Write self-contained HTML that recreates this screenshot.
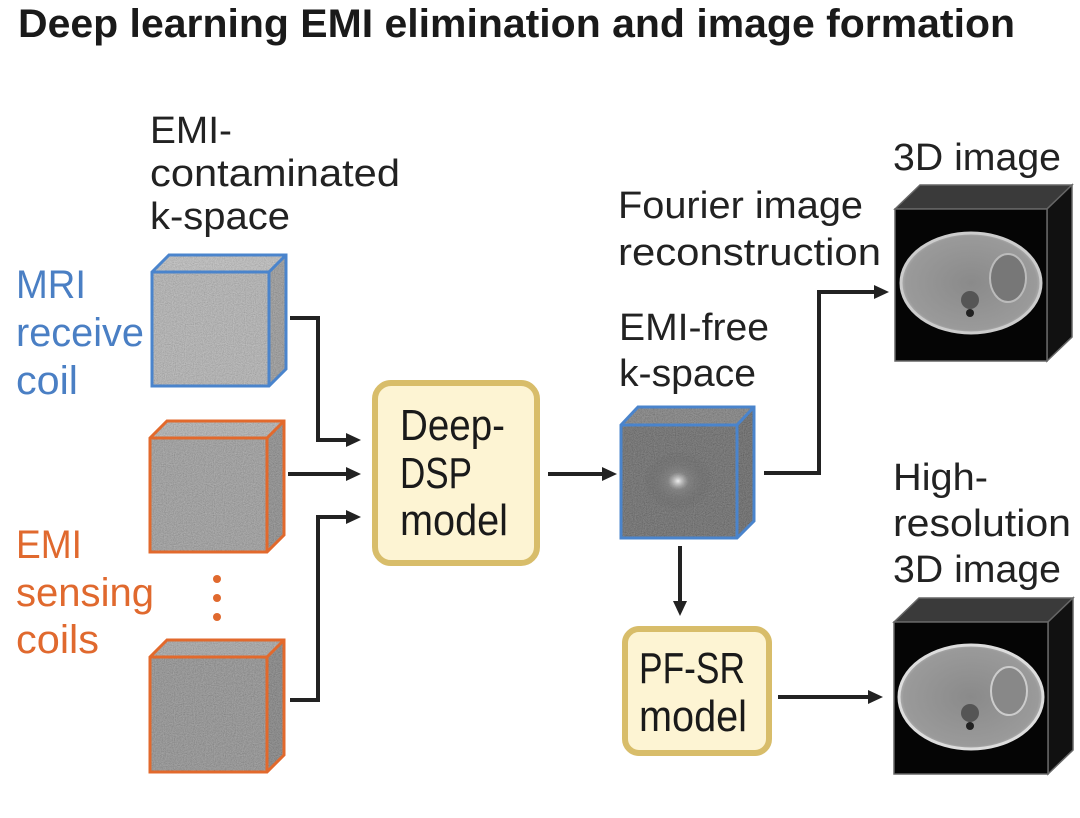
<!DOCTYPE html>
<html><head><meta charset="utf-8"><style>
html,body{margin:0;padding:0;background:#fff;}
svg{display:block;}
text{font-family:"Liberation Sans",sans-serif;}
</style></head><body>
<svg width="1080" height="818" viewBox="0 0 1080 818" xmlns="http://www.w3.org/2000/svg">
<defs>
<filter id="noise" x="0" y="0" width="100%" height="100%">
<feTurbulence type="fractalNoise" baseFrequency="0.9" numOctaves="2" seed="3"/>
<feColorMatrix type="saturate" values="0"/>
<feComponentTransfer><feFuncA type="linear" slope="0" intercept="0.4"/></feComponentTransfer>
<feComposite in2="SourceGraphic" operator="in"/>
</filter>
<radialGradient id="glow" cx="0.5" cy="0.5" r="0.5">
<stop offset="0" stop-color="#eee"/><stop offset="0.3" stop-color="#888" stop-opacity="0.6"/><stop offset="1" stop-color="#555" stop-opacity="0"/>
</radialGradient>
<radialGradient id="body" cx="0.5" cy="0.5" r="0.55">
<stop offset="0" stop-color="#8a8a8a"/><stop offset="0.85" stop-color="#9a9a9a"/><stop offset="1" stop-color="#d0d0d0"/>
</radialGradient>
<marker id="ah" markerWidth="16" markerHeight="16" refX="2" refY="8" orient="auto" markerUnits="userSpaceOnUse">
<path d="M0,1 L15,8 L0,15 z" fill="#222"/>
</marker>
</defs>

<text x="18" y="37" font-size="40" font-weight="bold" textLength="997" lengthAdjust="spacingAndGlyphs" fill="#1a1a1a">Deep learning EMI elimination and image formation</text>

<g font-size="38" fill="#222">
<text x="150" y="143" textLength="82" lengthAdjust="spacingAndGlyphs">EMI-</text>
<text x="150" y="186" textLength="250" lengthAdjust="spacingAndGlyphs">contaminated</text>
<text x="150" y="229" textLength="140" lengthAdjust="spacingAndGlyphs">k-space</text>
<text x="893" y="170" textLength="168" lengthAdjust="spacingAndGlyphs">3D image</text>
<text x="618" y="218" textLength="245" lengthAdjust="spacingAndGlyphs">Fourier image</text>
<text x="618" y="265" textLength="263" lengthAdjust="spacingAndGlyphs">reconstruction</text>
<text x="619" y="340" textLength="150" lengthAdjust="spacingAndGlyphs">EMI-free</text>
<text x="619" y="386" textLength="137" lengthAdjust="spacingAndGlyphs">k-space</text>
<text x="893" y="490" textLength="95" lengthAdjust="spacingAndGlyphs">High-</text>
<text x="893" y="536" textLength="178" lengthAdjust="spacingAndGlyphs">resolution</text>
<text x="893" y="582" textLength="168" lengthAdjust="spacingAndGlyphs">3D image</text>
</g>
<g font-size="40" fill="#4a7fc4">
<text x="16" y="298" textLength="70" lengthAdjust="spacingAndGlyphs">MRI</text>
<text x="16" y="346" textLength="128" lengthAdjust="spacingAndGlyphs">receive</text>
<text x="16" y="394" textLength="62" lengthAdjust="spacingAndGlyphs">coil</text>
</g>
<g font-size="40" fill="#e0692e">
<text x="16" y="558" textLength="66" lengthAdjust="spacingAndGlyphs">EMI</text>
<text x="16" y="606" textLength="138" lengthAdjust="spacingAndGlyphs">sensing</text>
<text x="16" y="653" textLength="83" lengthAdjust="spacingAndGlyphs">coils</text>
<circle cx="217" cy="579" r="4"/><circle cx="217" cy="598" r="4"/><circle cx="217" cy="617" r="4"/>
</g>

<g>
<polygon points="152,272 169,255 286,255 269,272" fill="#b8b8b8"/>
<polygon points="269,272 286,255 286,369 269,386" fill="#888"/>
<rect x="152" y="272" width="117" height="114" fill="#aaa"/>
<path d="M152,272 L169,255 L286,255 L286,369 L269,386 L152,386 Z" fill="#777" filter="url(#noise)"/>
<path d="M152,272 L169,255 L286,255 L286,369 L269,386 L152,386 Z M152,272 L269,272 L286,255 M269,272 L269,386" fill="none" stroke="#4a84cc" stroke-width="3"/>

<polygon points="150,438 167,421 284,421 267,438" fill="#a8a8a8"/>
<polygon points="267,438 284,421 284,535 267,552" fill="#777"/>
<rect x="150" y="438" width="117" height="114" fill="#8e8e8e"/>
<path d="M150,438 L167,421 L284,421 L284,535 L267,552 L150,552 Z" fill="#666" filter="url(#noise)"/>
<path d="M150,438 L167,421 L284,421 L284,535 L267,552 L150,552 Z M150,438 L267,438 L284,421 M267,438 L267,552" fill="none" stroke="#e2692c" stroke-width="3"/>

<polygon points="150,657 167,640 284,640 267,657" fill="#999"/>
<polygon points="267,657 284,640 284,755 267,772" fill="#6a6a6a"/>
<rect x="150" y="657" width="117" height="115" fill="#7e7e7e"/>
<path d="M150,657 L167,640 L284,640 L284,755 L267,772 L150,772 Z" fill="#555" filter="url(#noise)"/>
<path d="M150,657 L167,640 L284,640 L284,755 L267,772 L150,772 Z M150,657 L267,657 L284,640 M267,657 L267,772" fill="none" stroke="#e2692c" stroke-width="3"/>

<polygon points="621,425 638,407 754,407 737,425" fill="#666"/>
<polygon points="737,425 754,407 754,521 737,538" fill="#444"/>
<rect x="621" y="425" width="116" height="113" fill="#4a4a4a"/>
<path d="M621,425 L638,407 L754,407 L754,521 L737,538 L621,538 Z" fill="#333" filter="url(#noise)"/>
<ellipse cx="678" cy="481" rx="35" ry="30" fill="url(#glow)"/>
<path d="M621,425 L638,407 L754,407 L754,521 L737,538 L621,538 Z M621,425 L737,425 L754,407 M737,425 L737,538" fill="none" stroke="#4a84cc" stroke-width="3"/>
</g>

<g>
<polygon points="895,209 920,185 1072,185 1047,209" fill="#3a3a3a" stroke="#666" stroke-width="1.5"/>
<polygon points="1047,209 1072,185 1072,337 1047,361" fill="#111" stroke="#666" stroke-width="1.5"/>
<rect x="895" y="209" width="152" height="152" fill="#050505" stroke="#666" stroke-width="1.5"/>
<ellipse cx="971" cy="283" rx="70" ry="50" fill="url(#body)" stroke="#ccc" stroke-width="3"/>
<ellipse cx="1008" cy="278" rx="18" ry="24" fill="#777" stroke="#bbb" stroke-width="2"/>
<circle cx="970" cy="300" r="9" fill="#555"/>
<circle cx="970" cy="313" r="4" fill="#222"/>

<polygon points="894,622 919,598 1073,598 1048,622" fill="#3a3a3a" stroke="#666" stroke-width="1.5"/>
<polygon points="1048,622 1073,598 1073,750 1048,774" fill="#111" stroke="#666" stroke-width="1.5"/>
<rect x="894" y="622" width="154" height="152" fill="#050505" stroke="#666" stroke-width="1.5"/>
<ellipse cx="971" cy="697" rx="72" ry="52" fill="url(#body)" stroke="#ddd" stroke-width="3"/>
<ellipse cx="1009" cy="691" rx="18" ry="24" fill="#888" stroke="#ccc" stroke-width="2"/>
<circle cx="970" cy="713" r="9" fill="#555"/>
<circle cx="970" cy="726" r="4" fill="#222"/>
</g>

<rect x="375" y="383" width="162" height="180" rx="16" fill="#fdf4d3" stroke="#d8bd6a" stroke-width="6"/>
<g font-size="44" fill="#1a1a1a">
<text x="400" y="440" textLength="105" lengthAdjust="spacingAndGlyphs">Deep-</text>
<text x="400" y="488" textLength="72" lengthAdjust="spacingAndGlyphs">DSP</text>
<text x="400" y="535" textLength="108" lengthAdjust="spacingAndGlyphs">model</text>
</g>
<rect x="625" y="629" width="144" height="124" rx="14" fill="#fdf4d3" stroke="#d8bd6a" stroke-width="6"/>
<g font-size="44" fill="#1a1a1a">
<text x="639" y="683" textLength="106" lengthAdjust="spacingAndGlyphs">PF-SR</text>
<text x="639" y="731" textLength="108" lengthAdjust="spacingAndGlyphs">model</text>
</g>

<g fill="none" stroke="#222" stroke-width="4">
<path d="M290,318 H318 V440 H348" marker-end="url(#ah)"/>
<path d="M288,474 H348" marker-end="url(#ah)"/>
<path d="M290,700 H318 V517 H348" marker-end="url(#ah)"/>
<path d="M548,474 H604" marker-end="url(#ah)"/>
<path d="M764,473 H819 V292 H876" marker-end="url(#ah)"/>
<path d="M680,546 V603" marker-end="url(#ah)"/>
<path d="M778,697 H870" marker-end="url(#ah)"/>
</g>
</svg>
</body></html>
